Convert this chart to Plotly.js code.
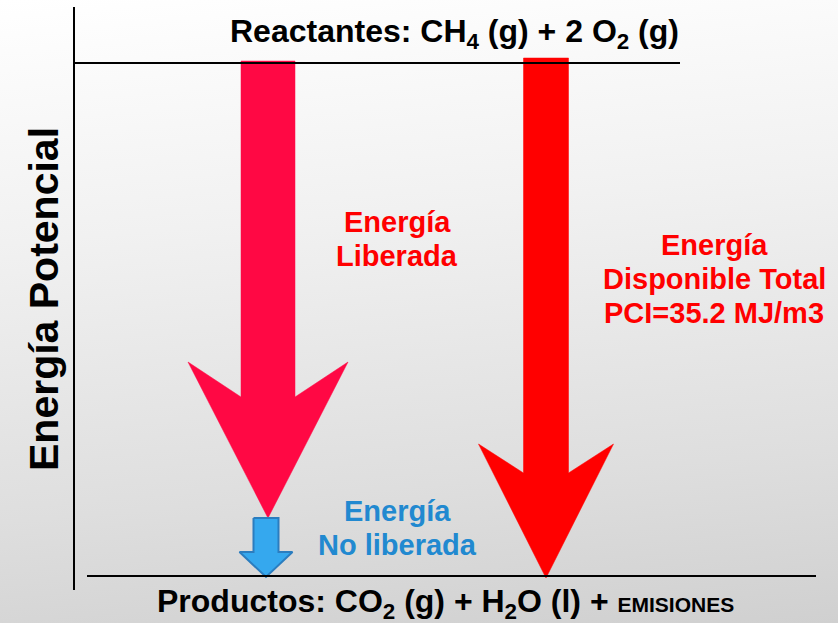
<!DOCTYPE html>
<html>
<head>
<meta charset="utf-8">
<script src="https://cdn.plot.ly/plotly-3.0.1.min.js"></script>
<style>
  html, body { margin: 0; padding: 0; }
  #chart { width: 838px; height: 623px; background: linear-gradient(175deg, #ffffff 0%, #f1f1f1 35%, #dedede 75%, #d0d0d0 100%); }
</style>
</head>
<body>
<div id="chart"></div>
<script>
// Energy levels (diagram units, y grows downward)
const levelNames = ['Reactantes', 'Productos'];
const levelY = [63, 576];
const levelX0 = [75, 87];
const levelX1 = [680, 816];

// Arrows: name, centre x, top y, tip y
const arrowNames = ['Energía Liberada', 'Energía Disponible Total', 'Energía No liberada'];
const arrowCx = [268, 546, 266];
const arrowTop = [61, 58, 518];
const arrowTip = [518, 578, 577];
const arrowColors = ['#ff0844', '#ff0000', '#35a8ee'];

// Arrow geometry (half shaft width, half head width, barb y, notch y)
const shaftHalf = [27, 22.5, 12.5];
const headHalf = [80, 67.5, 26.5];
const barbY = [362, 444, 552];
const notchY = [397, 473, 552];

// Label lines
const labelLines = [
  ['Energía', 'Liberada'],
  ['Energía', 'Disponible Total', 'PCI=35.2 MJ/m3'],
  ['Energía', 'No liberada']
];
const labelX = [397, 714, 397];
const labelY0 = [222, 245, 511];
const labelColors = ['#ff0000', '#ff0000', '#2189d0'];

const traces = [];
for (let i = 0; i < arrowNames.length; i++) {
  const c = arrowCx[i];
  const xs = [c - shaftHalf[i], c + shaftHalf[i], c + shaftHalf[i], c + headHalf[i], c, c - headHalf[i], c - shaftHalf[i], c - shaftHalf[i]];
  const ys = [arrowTop[i], arrowTop[i], notchY[i], barbY[i], arrowTip[i], barbY[i], notchY[i], arrowTop[i]];
  traces.push({
    x: xs, y: ys, type: 'scatter', mode: 'lines', fill: 'toself',
    fillcolor: arrowColors[i],
    line: { color: i === 2 ? '#2b7dbf' : arrowColors[i], width: i === 2 ? 2 : 0.5 },
    hoverinfo: 'skip', showlegend: false
  });
}
for (let i = 0; i < levelNames.length; i++) {
  traces.push({
    x: [levelX0[i], levelX1[i]], y: [levelY[i], levelY[i]], type: 'scatter', mode: 'lines',
    line: { color: '#000000', width: 2 }, hoverinfo: 'skip', showlegend: false
  });
}
traces.push({ x: [74, 74], y: [7, 590], type: 'scatter', mode: 'lines', line: { color: '#000', width: 2 }, hoverinfo: 'skip', showlegend: false });

const F = 'Liberation Sans, Arial, sans-serif';
const annotations = [
  { x: 454, y: 33, text: 'Reactantes: CH<sub>4</sub> (g) + 2 O<sub>2</sub> (g)', font: { family: F, size: 32, color: '#000', weight: 'bold' } },
  { x: 445, y: 603, text: 'Productos: CO<sub>2</sub> (g) + H<sub>2</sub>O (l) + <span style="font-size:21px">EMISIONES</span>', font: { family: F, size: 32, color: '#000', weight: 'bold' } },
  { x: 44, y: 299, text: 'Energía Potencial', textangle: -90, font: { family: F, size: 41, color: '#000', weight: 'bold' } }
];
for (let i = 0; i < labelLines.length; i++) {
  labelLines[i].forEach((t, j) => {
    annotations.push({ x: labelX[i], y: labelY0[i] + j * 34, text: t, font: { family: F, size: 29, color: labelColors[i], weight: 'bold' } });
  });
}
annotations.forEach(a => Object.assign(a, { xref: 'x', yref: 'y', showarrow: false, xanchor: 'center', yanchor: 'middle' }));

const layout = {
  width: 838, height: 623,
  margin: { l: 0, r: 0, t: 0, b: 0 },
  paper_bgcolor: 'rgba(0,0,0,0)', plot_bgcolor: 'rgba(0,0,0,0)',
  xaxis: { range: [0, 838], visible: false, fixedrange: true },
  yaxis: { range: [623, 0], visible: false, fixedrange: true },
  annotations: annotations,
  showlegend: false
};
Plotly.newPlot('chart', traces, layout, { staticPlot: true, displayModeBar: false });
</script>
</body>
</html>
